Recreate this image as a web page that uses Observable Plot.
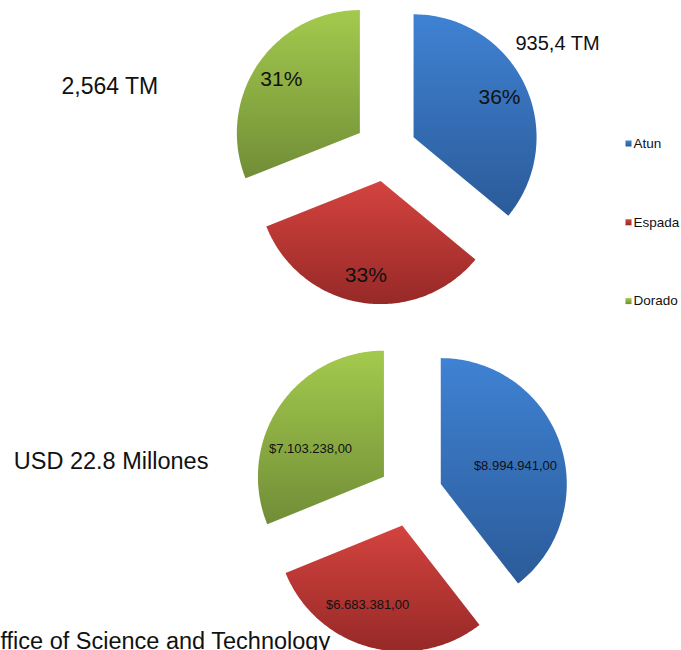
<!DOCTYPE html>
<html><head><meta charset="utf-8">
<script src="https://cdn.jsdelivr.net/npm/d3@7"></script>
<script src="https://cdn.jsdelivr.net/npm/@observablehq/plot@0.6"></script>
<style>html,body{margin:0;padding:0;background:#fff;overflow:hidden;} #chart svg{display:block}</style>
</head><body><div id="chart"></div>
<script>
// ---- data ----
const categories = ["Atun", "Espada", "Dorado"];
const sharePercent = [36, 33, 31];                 // top pie (TM share)
const valueUSD = [8994941, 6683381, 7103238];      // bottom pie (USD)
const noteTop = "935,4 TM";
const totalTop = "2,564 TM";
const totalBottom = "USD 22.8 Millones";
const footer = "Office of Science and Technology";

// ---- styles ----
const colorTop = ["#3f82d3", "#d4433f", "#a3ca4d"];
const colorBottom = ["#2b5b99", "#962927", "#718d37"];
const font = "'Liberation Sans', Arial, Helvetica, sans-serif";

// ---- layout ----
const W = 681, H = 650;
const usd = d3.formatLocale({decimal: ",", thousands: ".", grouping: [3], currency: ["$", ""]}).format("$,.2f");
const pies = [
  {values: sharePercent, cx: 385, cy: 150, r: 123, off: 31, labelR: 95, fontSize: 21,
   shift: [[0, 0], [0, 0], [0, 0]],
   fmt: (v, p) => Math.round(p * 100) + "%"},
  {values: valueUSD, cx: 410, cy: 494, r: 126, off: 32, labelR: 80, fontSize: 13,
   shift: [[-1, 8], [-14, 2], [-7, 17]],
   fmt: (v) => usd(v)}
];
const legend = {x: 628, textX: 633, y0: 143, step: 78.8, fontSize: 13.5};

const marks = [];
for (const pie of pies) {
  const sum = d3.sum(pie.values);
  const arcs = d3.pie().sort(null).startAngle(0).endAngle(2 * Math.PI)(pie.values);
  const labels = [];
  arcs.forEach((a, i) => {
    const mid = (a.startAngle + a.endAngle) / 2;
    const ox = pie.cx + pie.off * Math.sin(mid);
    const oy = pie.cy - pie.off * Math.cos(mid);
    const pts = [{x: ox, y: oy}];
    const N = 120;
    for (let k = 0; k <= N; k++) {
      const t = a.startAngle + (a.endAngle - a.startAngle) * k / N;
      pts.push({x: ox + pie.r * Math.sin(t), y: oy - pie.r * Math.cos(t)});
    }
    marks.push(Plot.line(pts, {x: "x", y: "y", curve: "linear-closed",
      fill: `url(#grad-${i})`, stroke: "none"}));
    labels.push({x: ox + pie.labelR * Math.sin(mid) + pie.shift[i][0],
      y: oy - pie.labelR * Math.cos(mid) + pie.shift[i][1],
      text: pie.fmt(a.value, a.value / sum)});
  });
  marks.push(Plot.text(labels, {x: "x", y: "y", text: "text", fontSize: pie.fontSize, fill: "#111"}));
}

// annotations
marks.push(Plot.text([noteTop], {x: () => 515, y: () => 43.5, text: d => d, textAnchor: "start", fontSize: 20, fill: "#111"}));
marks.push(Plot.text([totalTop], {x: () => 61, y: () => 86, text: d => d, textAnchor: "start", fontSize: 23, fill: "#111"}));
marks.push(Plot.text([totalBottom], {x: () => 13.3, y: () => 461.3, text: d => d, textAnchor: "start", fontSize: 23.5, fill: "#111"}));
marks.push(Plot.text([footer], {x: () => -18.3, y: () => 641, text: d => d, textAnchor: "start", fontSize: 23.5, fill: "#111"}));

// legend
categories.forEach((c, i) => {
  marks.push(Plot.dot([c], {x: () => legend.x, y: () => legend.y0 + i * legend.step,
    symbol: "square", r: 3.4, fill: `url(#grad-${i})`, stroke: "none"}));
});
marks.push(Plot.text(categories, {x: () => legend.textX, y: (d, i) => legend.y0 + i * legend.step,
  text: d => d, textAnchor: "start", fontSize: legend.fontSize, fill: "#111"}));

const svg = Plot.plot({
  width: W, height: H, margin: 0,
  x: {domain: [0, W], range: [0, W], axis: null},
  y: {domain: [0, H], range: [0, H], axis: null},
  style: {fontFamily: font, background: "white", overflow: "hidden"},
  marks
});

const defs = d3.select(svg).insert("defs", ":first-child");
categories.forEach((c, i) => {
  const g = defs.append("linearGradient").attr("id", `grad-${i}`)
    .attr("x1", 0).attr("y1", 0).attr("x2", 0).attr("y2", 1);
  g.append("stop").attr("offset", "0%").attr("stop-color", colorTop[i]);
  g.append("stop").attr("offset", "100%").attr("stop-color", colorBottom[i]);
});

document.getElementById("chart").appendChild(svg);
</script>
</body></html>
